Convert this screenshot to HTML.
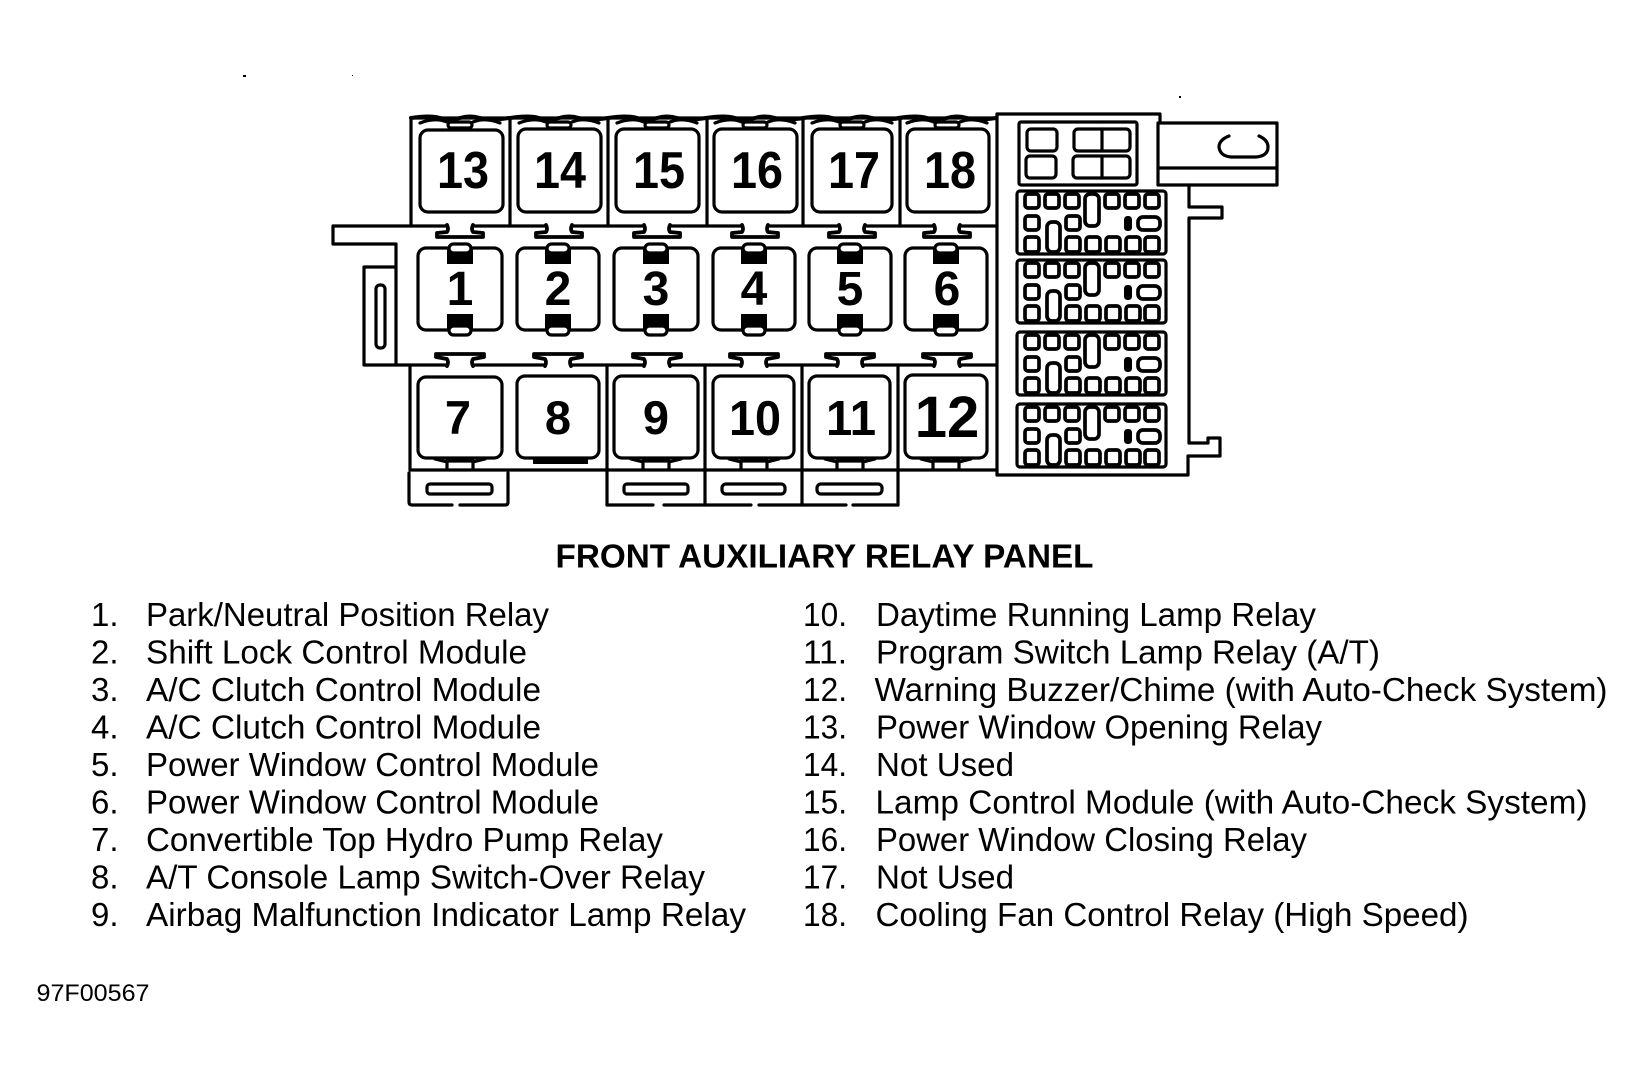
<!DOCTYPE html>
<html><head><meta charset="utf-8"><style>
html,body{margin:0;padding:0;background:#fff}
svg{display:block}
text{font-family:"Liberation Sans",sans-serif;fill:#000}
.l{font-size:33px}
.n{font-weight:bold;text-anchor:middle}
.d{fill:none;stroke:#000;stroke-width:3.2;stroke-linejoin:round;stroke-linecap:round}
</style></head><body>
<svg width="1643" height="1077" viewBox="0 0 1643 1077" xmlns="http://www.w3.org/2000/svg">
<defs>
<path id="tt" class="d" style="stroke-width:3.8" d="M-13 225Q-11 229 -13 232L-23 233V237H23V233L13 232Q11 229 13 225" />
<path id="bt" class="d" style="stroke-width:3.8" d="M-13 366Q-11 362 -13 359L-24 357V354H24V357L13 359Q11 362 13 366" />
<g id="topcap"><path class="d" d="M-40 123Q-25 117 -13 122M13 122Q25 117 40 123"/><rect class="d" x="-12" y="122" width="24" height="6" rx="3"/><path class="d" style="stroke-width:4" d="M-49 118Q-30 115 -20 118T0 118T20 118T49 118"/></g>
<g id="midtab">
<rect x="-13" y="249" width="26" height="15" fill="#000"/>
<rect class="d" x="-11" y="244" width="22" height="9" rx="4.5" style="fill:#fff"/>
<rect x="-13" y="314" width="26" height="16" fill="#000"/>
<rect class="d" x="-11" y="326" width="22" height="9" rx="4.5" style="fill:#fff"/>
</g>
<path id="bottab" class="d" d="M-25 459L-13 462V468M25 459L13 462V468M-13 461H13" />
<g id="conn">
<rect class="d" x="0" y="0" width="149" height="63" rx="3"/>
<g class="d" style="stroke-width:3.7">
<rect x="8" y="3" width="14" height="14" rx="3"/><rect x="28" y="3" width="14" height="14" rx="3"/><rect x="48" y="3" width="14" height="14" rx="3"/>
<rect x="68" y="3" width="14" height="32" rx="5"/>
<rect x="88" y="3" width="14" height="14" rx="3"/><rect x="108" y="3" width="14" height="14" rx="3"/><rect x="128" y="3" width="14" height="14" rx="3"/>
<rect x="8" y="25" width="14" height="14" rx="3"/><rect x="49" y="25" width="14" height="14" rx="3"/>
<rect x="30" y="31" width="13" height="30" rx="5"/>
<rect x="121" y="26" width="22" height="13" rx="5"/>
<rect x="8" y="46" width="14" height="15" rx="3"/><rect x="49" y="46" width="14" height="15" rx="3"/><rect x="69" y="46" width="14" height="15" rx="3"/><rect x="89" y="46" width="14" height="15" rx="3"/><rect x="109" y="46" width="14" height="15" rx="3"/><rect x="128" y="46" width="14" height="15" rx="3"/>
</g>
<rect x="107" y="25" width="8" height="15" rx="3.5" fill="#000"/>
</g>
</defs>

<rect width="1643" height="1077" fill="#fff"/>
<g fill="#000"><rect x="243" y="75" width="3" height="2"/><rect x="352" y="75" width="1" height="1"/><rect x="1179" y="96" width="2" height="2"/></g>

<!-- frame -->
<g class="d">
<path d="M411 226V118H997"/>
<path d="M510 118V226M608 118V226M707 118V226M803 118V226M900 118V226"/>
<path d="M333 226H447M473 226H546M572 226H644M670 226H742M768 226H839M865 226H934M960 226H997"/>
<path d="M333 226V244H396V365H447M473 365H545M571 365H644M670 365H741M767 365H837M863 365H934M960 365H996"/>
<path d="M364 365V267H395M364 365H396"/>
<rect x="376" y="285" width="9" height="63" rx="4"/>
<path d="M410 365V470H997M607 365V505M705 365V505M802 365V505M898 365V505"/>
<path d="M409 473V502Q409 505 412 505H452M460 505H505Q508 505 508 502V473"/>
<path d="M607 505H653M664 505H751M759 505H846M853 505H898"/>
<rect x="427" y="484" width="65" height="10" rx="3"/>
<rect x="624" y="484" width="64" height="10" rx="3"/>
<rect x="722" y="484" width="63" height="10" rx="4"/>
<rect x="817" y="484" width="65" height="10" rx="4"/>
</g>
<rect x="533" y="459" width="55" height="5" fill="#000"/>

<!-- relay boxes -->
<g class="d">
<rect x="420" y="130" width="83" height="82" rx="8"/><rect x="518" y="129" width="83" height="83" rx="8"/><rect x="616" y="129" width="83" height="83" rx="8"/><rect x="714" y="129" width="83" height="83" rx="8"/><rect x="812" y="129" width="80" height="83" rx="8"/><rect x="907" y="129" width="82" height="83" rx="8"/>
<rect x="418" y="248" width="84" height="82" rx="8"/><rect x="517" y="248" width="82" height="82" rx="8"/><rect x="614" y="248" width="84" height="82" rx="8"/><rect x="713" y="248" width="82" height="82" rx="8"/><rect x="809" y="248" width="82" height="82" rx="8"/><rect x="905" y="248" width="82" height="82" rx="8"/>
<rect x="418" y="377" width="84" height="81" rx="8"/><rect x="517" y="376" width="82" height="82" rx="8"/><rect x="614" y="376" width="84" height="82" rx="8"/><rect x="713" y="376" width="81" height="82" rx="8"/><rect x="809" y="376" width="81" height="82" rx="8"/><rect x="905" y="375" width="82" height="83" rx="8"/>
</g>

<use href="#topcap" x="460"/><use href="#topcap" x="559"/><use href="#topcap" x="657"/><use href="#topcap" x="755"/><use href="#topcap" x="852"/><use href="#topcap" x="947"/>
<use href="#tt" x="460"/><use href="#tt" x="559"/><use href="#tt" x="657"/><use href="#tt" x="755"/><use href="#tt" x="852"/><use href="#tt" x="947"/>
<use href="#midtab" x="460"/><use href="#midtab" x="558"/><use href="#midtab" x="656"/><use href="#midtab" x="754"/><use href="#midtab" x="850"/><use href="#midtab" x="946"/>
<use href="#bt" x="460"/><use href="#bt" x="558"/><use href="#bt" x="657"/><use href="#bt" x="754"/><use href="#bt" x="850"/><use href="#bt" x="947"/>
<use href="#bottab" x="460"/><use href="#bottab" x="656"/><use href="#bottab" x="754"/><use href="#bottab" x="850"/><use href="#bottab" x="946"/>

<!-- right panel -->
<g class="d">
<path d="M997 114V475H1188V456H1220V438H1208V443H1189V218H1222V207H1189V185"/>
<path d="M997 114H1160V123"/>
<path d="M1158 123H1277V185H1158ZM1158 168H1277"/>
<path d="M1229 136Q1219 140 1219 147Q1220 156 1231 157H1256Q1268 156 1268 147Q1268 140 1259 136"/>
<rect x="1019" y="122" width="118" height="63" rx="2"/>
<rect x="1027" y="129" width="30" height="22" rx="4"/><rect x="1026" y="156" width="30" height="22" rx="4"/>
<rect x="1074" y="129" width="56" height="22" rx="4"/><rect x="1073" y="156" width="57" height="22" rx="4"/>
<path d="M1102 129V151M1102 156V178"/>
</g>
<use href="#conn" x="1017" y="191"/><use href="#conn" x="1017" y="260"/><use href="#conn" x="1017" y="332"/><use href="#conn" x="1017" y="404"/>

<!-- relay numbers -->
<g font-size="52">
<text class="n" x="463" y="188" textLength="52" lengthAdjust="spacingAndGlyphs">13</text><text class="n" x="560" y="188" textLength="52" lengthAdjust="spacingAndGlyphs">14</text><text class="n" x="659" y="188" textLength="52" lengthAdjust="spacingAndGlyphs">15</text><text class="n" x="757" y="188" textLength="52" lengthAdjust="spacingAndGlyphs">16</text><text class="n" x="854" y="188" textLength="52" lengthAdjust="spacingAndGlyphs">17</text><text class="n" x="950" y="188" textLength="52" lengthAdjust="spacingAndGlyphs">18</text>
</g>
<g font-size="48">
<text class="n" x="460" y="305">1</text><text class="n" x="558" y="305">2</text><text class="n" x="656" y="305">3</text><text class="n" x="754" y="305">4</text><text class="n" x="850" y="305">5</text><text class="n" x="947" y="305">6</text>
</g>
<g font-size="47">
<text class="n" x="458" y="434">7</text><text class="n" x="558" y="434">8</text><text class="n" x="656" y="434">9</text>
</g>
<g font-size="49">
<text class="n" x="755" y="435" textLength="52" lengthAdjust="spacingAndGlyphs">10</text><text class="n" x="851" y="435" textLength="50" lengthAdjust="spacingAndGlyphs">11</text>
</g>
<text class="n" x="947" y="437" font-size="58">12</text>

<text x="555.5" y="567.5" font-size="33.5" font-weight="bold" textLength="538" lengthAdjust="spacingAndGlyphs">FRONT AUXILIARY RELAY PANEL</text>

<g class="l">
<text class="l" x="91" y="626">1.</text><text class="l" x="146" y="626" textLength="403" lengthAdjust="spacingAndGlyphs">Park/Neutral Position Relay</text>
<text class="l" x="91" y="663.5">2.</text><text class="l" x="146" y="663.5" textLength="381" lengthAdjust="spacingAndGlyphs">Shift Lock Control Module</text>
<text class="l" x="91" y="701">3.</text><text class="l" x="146" y="701" textLength="395" lengthAdjust="spacingAndGlyphs">A/C Clutch Control Module</text>
<text class="l" x="91" y="738.5">4.</text><text class="l" x="146" y="738.5" textLength="395" lengthAdjust="spacingAndGlyphs">A/C Clutch Control Module</text>
<text class="l" x="91" y="776">5.</text><text class="l" x="146" y="776" textLength="453" lengthAdjust="spacingAndGlyphs">Power Window Control Module</text>
<text class="l" x="91" y="813.5">6.</text><text class="l" x="146" y="813.5" textLength="453" lengthAdjust="spacingAndGlyphs">Power Window Control Module</text>
<text class="l" x="91" y="851">7.</text><text class="l" x="146" y="851" textLength="517" lengthAdjust="spacingAndGlyphs">Convertible Top Hydro Pump Relay</text>
<text class="l" x="91" y="888.5">8.</text><text class="l" x="146" y="888.5" textLength="559" lengthAdjust="spacingAndGlyphs">A/T Console Lamp Switch-Over Relay</text>
<text class="l" x="91" y="926">9.</text><text class="l" x="146" y="926" textLength="600" lengthAdjust="spacingAndGlyphs">Airbag Malfunction Indicator Lamp Relay</text>

<text class="l" x="803" y="626" textLength="44" lengthAdjust="spacingAndGlyphs">10.</text><text class="l" x="876" y="626" textLength="440" lengthAdjust="spacingAndGlyphs">Daytime Running Lamp Relay</text>
<text class="l" x="803" y="663.5" textLength="44" lengthAdjust="spacingAndGlyphs">11.</text><text class="l" x="876" y="663.5" textLength="504" lengthAdjust="spacingAndGlyphs">Program Switch Lamp Relay (A/T)</text>
<text class="l" x="803" y="701" textLength="44" lengthAdjust="spacingAndGlyphs">12.</text><text class="l" x="874.5" y="701" textLength="733" lengthAdjust="spacingAndGlyphs">Warning Buzzer/Chime (with Auto-Check System)</text>
<text class="l" x="803" y="738.5" textLength="44" lengthAdjust="spacingAndGlyphs">13.</text><text class="l" x="876" y="738.5" textLength="446" lengthAdjust="spacingAndGlyphs">Power Window Opening Relay</text>
<text class="l" x="803" y="776" textLength="44" lengthAdjust="spacingAndGlyphs">14.</text><text class="l" x="876" y="776" textLength="138" lengthAdjust="spacingAndGlyphs">Not Used</text>
<text class="l" x="803" y="813.5" textLength="44" lengthAdjust="spacingAndGlyphs">15.</text><text class="l" x="875.5" y="813.5" textLength="712" lengthAdjust="spacingAndGlyphs">Lamp Control Module (with Auto-Check System)</text>
<text class="l" x="803" y="851" textLength="44" lengthAdjust="spacingAndGlyphs">16.</text><text class="l" x="876" y="851" textLength="431" lengthAdjust="spacingAndGlyphs">Power Window Closing Relay</text>
<text class="l" x="803" y="888.5" textLength="44" lengthAdjust="spacingAndGlyphs">17.</text><text class="l" x="876" y="888.5" textLength="138" lengthAdjust="spacingAndGlyphs">Not Used</text>
<text class="l" x="803" y="926" textLength="44" lengthAdjust="spacingAndGlyphs">18.</text><text class="l" x="875.5" y="926" textLength="593" lengthAdjust="spacingAndGlyphs">Cooling Fan Control Relay (High Speed)</text>
</g>

<text x="36.5" y="1001" font-size="24.5" textLength="113" lengthAdjust="spacingAndGlyphs">97F00567</text>
</svg>
</body></html>
